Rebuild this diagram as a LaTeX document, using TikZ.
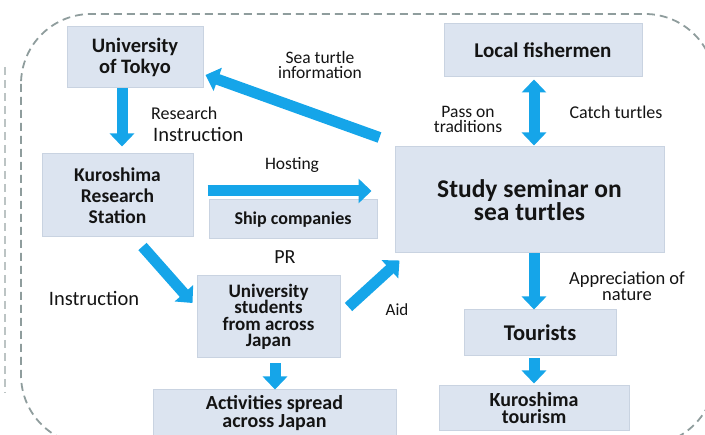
\documentclass[tikz,border=0pt]{standalone}
\usepackage{fontspec}
\setmainfont{Carlito}
\usetikzlibrary{arrows.meta}
\definecolor{turtleBlue}{HTML}{15A5E9}
\definecolor{boxFill}{HTML}{DCE4F0}
\definecolor{boxEdge}{HTML}{C9D3E1}
\definecolor{frameGray}{HTML}{8F9D9D}
\definecolor{inkText}{HTML}{141414}
\newcommand{\setfs}[2]{\fontsize{#1}{#2}\selectfont}
\tikzset{
  every picture/.style={text=inkText},
  org box/.style={draw=boxEdge, line width=1pt, fill=boxFill, align=center,
    inner sep=0pt},
  org note/.style={align=center, inner sep=0pt},
  org flow/.style={-{Triangle[length=13pt,width=24pt]},
    draw=turtleBlue, line width=11pt, line cap=butt},
  org twoway/.style={{Triangle[length=13pt,width=24pt]}-{Triangle[length=13pt,width=24pt]},
    draw=turtleBlue, line width=11pt, line cap=butt},
  org frame/.style={draw=frameGray, line width=1.8pt, dash pattern=on 8pt off 5pt}
}

\begin{document}
\begin{tikzpicture}[x=1pt,y=-1pt]
  \useasboundingbox (0,0) rectangle (705,435);
  \clip (0,0) rectangle (705,435);
  % dashed frame round everything
  \draw[org frame, rounded corners=70pt] (21,14) rectangle (715,445);
  \draw[org frame, draw=frameGray!60] (5,67) -- (5,393);

  % boxes
  \node[org box, minimum width=136pt, minimum height=61pt, font=\bfseries\setfs{20.5}{21}] (tokyo) at (135,57.5) {University\\of Tokyo};
  \node[org box, minimum width=151pt, minimum height=83pt, font=\bfseries\setfs{19.5}{21}] (station) at (117.5,195.5) {Kuroshima\\Research\\Station};
  \node[org box, minimum width=168pt, minimum height=39pt, font=\bfseries\setfs{18}{20}] (ships) at (293,219.5) {Ship companies};
  \node[org box, minimum width=143pt, minimum height=82pt, font=\bfseries\setfs{19}{16.5}] (students) at (268.5,317) {University\\students\\from across\\Japan};
  \node[org box, minimum width=243pt, minimum height=46pt, font=\bfseries\setfs{20}{17.5}] (spread) at (274.5,413) {Activities spread\\across Japan};
  \node[org box, minimum width=198pt, minimum height=53pt, font=\bfseries\setfs{21}{21}] (fishermen) at (543,50.5) {Local fishermen};
  \node[org box, minimum width=269pt, minimum height=106pt, font=\bfseries\setfs{25.5}{23}] (seminar) at (529.5,200) {Study seminar on\\sea turtles};
  \node[org box, minimum width=152pt, minimum height=46pt, font=\bfseries\setfs{22.5}{22}] (tourists) at (540,333) {Tourists};
  \node[org box, minimum width=190pt, minimum height=45pt, font=\bfseries\setfs{20}{17}] (tourism) at (534,408.5) {Kuroshima\\tourism};

  % labels on the flows
  \node[org note, font=\setfs{17.5}{14.5}] (infoNote) at (320,65) {Sea turtle\\information};
  \node[org note, anchor=west, font=\setfs{18}{18}] (researchNote) at (151,113) {Research};
  \node[org note, anchor=west, font=\setfs{20.5}{20}] (instrNote) at (153,134) {Instruction};
  \node[org note, font=\setfs{17.5}{18}] (hostNote) at (292,165) {Hosting};
  \node[org note, font=\setfs{20}{20}] (prNote) at (285,257) {PR};
  \node[org note, font=\setfs{20.5}{20}] (instrLeft) at (94,298) {Instruction};
  \node[org note, font=\setfs{17}{18}] (aidNote) at (397,310) {Aid};
  \node[org note, font=\setfs{17.5}{15}] (passNote) at (468,119) {Pass on\\traditions};
  \node[org note, font=\setfs{18}{18}] (catchNote) at (616,112) {Catch turtles};
  \node[org note, font=\setfs{18.5}{15.5}] (natureNote) at (627,286) {Appreciation of\\nature};

  % flows
  \draw[org flow] ([shift={(-13,0)}]tokyo.south) -- ([shift={(4.5,-7)}]station.north);
  \draw[org flow] ([shift={(-15,-9)}]seminar.north west) -- ([shift={(2,17.5)}]tokyo.east);
  \draw[org flow] ([shift={(14,-4.5)}]station.east) -- ([shift={(-23,-9)}]seminar.west);
  \draw[org flow] ([shift={(-51,9)}]station.south east) -- ([shift={(-4,-14)}]students.west);
  \draw[org flow] ([shift={(8,-10)}]students.east) -- ([shift={(5,7)}]seminar.south west);
  \draw[org flow] ([shift={(6.5,5)}]students.south) -- ([shift={(0.5,0)}]spread.north);
  \draw[org twoway] ([shift={(-9,2)}]fishermen.south) -- ([shift={(4.5,-1)}]seminar.north);
  \draw[org flow] ([shift={(4.5,0)}]seminar.south) -- ([shift={(-6,0)}]tourists.north);
  \draw[org flow] ([shift={(-6,2)}]tourists.south) -- ([shift={(0,-2)}]tourism.north);
\end{tikzpicture}
\end{document}
